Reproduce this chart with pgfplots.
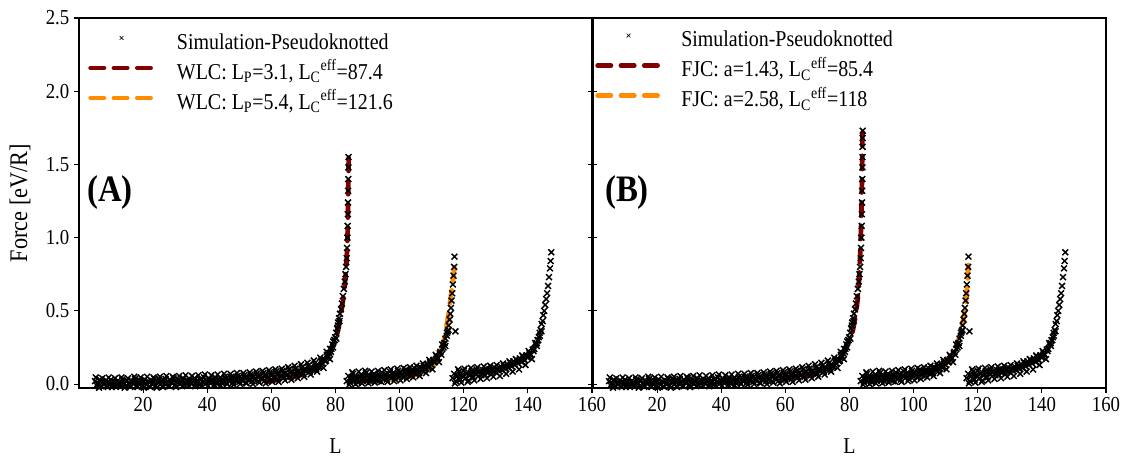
\documentclass[border=0pt]{standalone}
\usepackage{fontspec}
\setmainfont{Liberation Serif}[FakeStretch=0.88]
\usepackage{pgfplots}
\usepackage{pgfplotstable}
\pgfplotsset{compat=1.18}
\definecolor{dkred}{RGB}{128,0,0}
\definecolor{fitor}{RGB}{255,140,0}

\pgfplotstableread{
x y
5 0.02
5.5 -0.01
6 0.005
6.5 0.03
7 -0.015
7.5 0.015
8 0.0
8.5 0.025
9 -0.02
9.5 0.01
10 0.03
10.5 -0.005
11 0.015
11.5 -0.02
12 0.02
12.5 0.0
13 -0.01
13.5 0.03
14 0.01
14.5 -0.015
15 0.025
15.5 0.005
16 -0.02
16.5 0.02
17 0.0
17.5 0.035
18 -0.01
18.5 0.015
19 0.025
19.5 -0.015
20 0.01
20.5 0.03
21 -0.005
21.5 0.02
22 -0.015
22.5 0.025
23 0.005
23.5 0.035
24 -0.01
24.5 0.015
25 0.03
25.5 0.0
26 -0.015
26.5 0.02
27 0.035
27.5 0.005
28 -0.01
28.5 0.025
29 0.01
29.5 0.04
30 -0.005
30.5 0.02
31 0.03
31.5 0.0
32 0.015
32.5 0.04
33 -0.01
33.5 0.025
34 0.01
34.5 0.035
35 0.0
35.5 0.02
36 0.04
36.5 0.005
37 0.025
37.5 -0.005
38 0.03
38.5 0.015
39 0.045
39.5 0.0
40 0.02
40.5 0.035
41 0.005
41.5 0.03
42 0.015
42.5 0.045
43 0.0
43.5 0.025
44 0.04
44.5 0.01
45 0.03
45.5 0.05
46 0.005
46.5 0.035
47 0.02
47.5 0.05
48 0.01
48.5 0.04
49 0.025
49.5 0.055
50 0.015
50.5 0.04
51 0.03
51.5 0.06
52 0.01
52.5 0.045
53 0.025
53.5 0.065
54 0.02
54.5 0.05
55 0.035
55.5 0.07
56 0.02
56.5 0.055
57 0.04
57.5 0.075
58 0.025
58.5 0.06
59 0.045
59.5 0.08
60 0.03
60.5 0.065
61 0.05
61.5 0.085
62 0.035
62.5 0.07
63 0.055
63.5 0.09
64 0.045
64.5 0.075
65 0.06
65.5 0.1
66 0.05
66.5 0.085
67 0.07
67.5 0.105
68 0.06
68.5 0.09
69 0.08
69.5 0.115
70 0.07
70.5 0.1
71 0.09
71.5 0.125
72 0.085
72.5 0.11
73 0.1
73.5 0.14
74 0.105
74.5 0.13
75 0.12
75.5 0.16
76 0.14
76.5 0.17
77 0.16
77.3 0.2
77.6 0.18
78 0.21
78.3 0.24
78.6 0.22
79 0.27
79.3 0.29
79.6 0.3
79.9 0.32
80.2 0.35
80.5 0.38
80.8 0.42
81.1 0.45
81.4 0.48
81.7 0.51
82 0.55
82.3 0.6
82.6 0.65
82.9 0.7
83.1 0.75
83.3 0.8
83.5 0.86
83.6 0.93
83.7 1.0
83.8 1.08
83.85 1.16
83.9 1.24
83.95 1.32
84 1.4
84.03 1.48
84.06 1.55
}\segA

\pgfplotstableread{
x y
5.25 0.045
6.25 -0.025
7.25 0.04
8.25 -0.03
9.25 0.045
10.25 -0.02
11.25 0.04
12.25 -0.03
13.25 0.045
14.25 -0.025
15.25 0.04
16.25 -0.03
17.25 0.05
18.25 -0.02
19.25 0.045
20.25 -0.025
21.25 0.05
22.25 -0.02
23.25 0.045
24.25 -0.025
25.25 0.05
26.25 -0.02
27.25 0.055
28.25 -0.015
29.25 0.05
30.25 -0.02
31.25 0.055
32.25 -0.015
33.25 0.06
34.25 -0.01
35.25 0.055
36.25 -0.015
37.25 0.06
38.25 -0.01
39.25 0.065
40.25 -0.01
41.25 0.06
42.25 -0.005
43.25 0.065
44.25 -0.01
45.25 0.07
46.25 0.0
47.25 0.07
48.25 -0.005
49.25 0.075
50.25 0.0
51.25 0.075
52.25 0.005
53.25 0.08
54.25 0.0
55.25 0.085
56.25 0.01
57.25 0.09
58.25 0.005
59.25 0.095
60.25 0.015
61.25 0.1
62.25 0.015
63.25 0.105
64.25 0.025
65.25 0.115
66.25 0.03
67.25 0.125
68.25 0.04
69.25 0.135
70.25 0.05
71.25 0.145
72.25 0.065
73.25 0.16
74.25 0.085
75.25 0.18
76.25 0.11
77.25 0.22
78.25 0.17
79.25 0.25
80.25 0.31
81.25 0.43
5.75 0.0
6.75 0.015
7.75 -0.005
8.75 0.012
9.75 0.0
10.75 0.018
11.75 -0.002
12.75 0.012
13.75 0.005
14.75 0.02
15.75 -0.005
16.75 0.01
17.75 0.015
18.75 0.0
19.75 0.02
20.75 0.005
21.75 0.015
22.75 0.0
23.75 0.02
24.75 0.008
25.75 0.018
26.75 0.005
27.75 0.02
28.75 0.01
29.75 0.022
30.75 0.008
31.75 0.02
32.75 0.012
33.75 0.028
34.75 0.01
35.75 0.025
36.75 0.015
37.75 0.03
38.75 0.012
39.75 0.028
40.75 0.018
41.75 0.032
42.75 0.015
43.75 0.03
44.75 0.022
45.75 0.035
46.75 0.02
47.75 0.038
48.75 0.025
49.75 0.04
50.75 0.028
51.75 0.045
52.75 0.03
53.75 0.048
54.75 0.035
55.75 0.052
56.75 0.038
57.75 0.055
58.75 0.045
59.75 0.06
60.75 0.048
61.75 0.065
62.75 0.055
63.75 0.07
64.75 0.06
65.75 0.078
66.75 0.068
67.75 0.085
68.75 0.078
69.75 0.095
70.75 0.088
71.75 0.105
72.75 0.1
73.75 0.12
74.75 0.12
75.75 0.14
76.75 0.155
77.75 0.19
78.75 0.24
79.75 0.3
80.75 0.4
}\segAx

\pgfplotstableread{
x y
84.08 1.62
84.1 1.68
84.12 1.73
}\segAtop

\pgfplotstableread{
x y
83.5 0.02
84 0.055
84.5 0.01
85 0.045
85.5 0.07
86 0.02
86.5 0.05
87 0.01
87.5 0.04
88 0.065
88.5 0.02
89 0.05
89.5 0.075
90 0.025
90.5 0.055
91 0.015
91.5 0.045
92 0.07
92.5 0.03
93 0.06
93.5 0.02
94 0.05
94.5 0.08
95 0.035
95.5 0.065
96 0.03
96.5 0.055
97 0.085
97.5 0.045
98 0.07
98.5 0.035
99 0.065
99.5 0.09
100 0.05
100.5 0.08
101 0.045
101.5 0.075
102 0.1
102.5 0.06
103 0.09
103.5 0.055
104 0.085
104.5 0.11
105 0.07
105.5 0.1
106 0.075
106.5 0.115
107 0.09
107.5 0.125
108 0.1
108.5 0.135
109 0.11
109.5 0.15
110 0.13
110.5 0.165
111 0.15
111.5 0.19
112 0.175
112.5 0.21
113 0.2
113.3 0.24
113.7 0.25
114 0.28
114.3 0.31
114.7 0.33
115 0.36
115.3 0.4
115.6 0.44
115.8 0.48
116 0.52
116.2 0.57
116.4 0.62
116.6 0.68
116.8 0.74
117 0.8
117.1 0.87
117.4 0.36
}\segB

\pgfplotstableread{
x y
84.25 -0.005
85.25 0.08
86.25 0.0
87.25 0.085
88.25 0.005
89.25 0.09
90.25 0.005
91.25 0.085
92.25 0.01
93.25 0.09
94.25 0.015
95.25 0.095
96.25 0.015
97.25 0.1
98.25 0.02
99.25 0.105
100.25 0.025
101.25 0.11
102.25 0.035
103.25 0.115
104.25 0.045
105.25 0.125
106.25 0.055
107.25 0.14
108.25 0.075
109.25 0.165
110.25 0.1
111.25 0.2
112.25 0.15
113.25 0.27
114.25 0.26
115.25 0.37
84.75 0.03
85.75 0.045
86.75 0.03
87.75 0.05
88.75 0.035
89.75 0.055
90.75 0.04
91.75 0.055
92.75 0.045
93.75 0.06
94.75 0.05
95.75 0.065
96.75 0.055
97.75 0.065
98.75 0.06
99.75 0.07
100.75 0.065
101.75 0.08
102.75 0.075
103.75 0.085
104.75 0.085
105.75 0.095
106.75 0.1
107.75 0.11
108.75 0.12
109.75 0.135
110.75 0.15
111.75 0.175
112.75 0.22
113.75 0.27
114.75 0.35
}\segBx

\pgfplotstableread{
x y
116.5 0.04
117 0.07
117.5 0.02
118 0.055
118.5 0.085
119 0.03
119.5 0.06
120 0.09
120.5 0.04
121 0.07
121.5 0.025
122 0.06
122.5 0.09
123 0.045
123.5 0.075
124 0.1
124.5 0.055
125 0.085
125.5 0.06
126 0.095
126.5 0.065
127 0.105
127.5 0.075
128 0.1
128.5 0.065
129 0.095
129.5 0.115
130 0.08
130.5 0.105
131 0.09
131.5 0.12
132 0.095
132.5 0.125
133 0.105
133.5 0.135
134 0.11
134.5 0.145
135 0.12
135.5 0.155
136 0.13
136.5 0.165
137 0.14
137.5 0.175
138 0.15
138.5 0.185
139 0.16
139.5 0.195
140 0.18
140.5 0.21
141 0.2
141.5 0.235
142 0.24
142.5 0.27
142.8 0.26
143 0.3
143.4 0.32
143.7 0.35
144 0.37
144.3 0.41
144.6 0.43
144.8 0.47
145.1 0.5
145.4 0.54
145.7 0.58
146 0.62
146.3 0.67
146.6 0.73
146.9 0.79
147.1 0.84
147.3 0.9
}\segC

\pgfplotstableread{
x y
117.25 0.005
118.25 0.1
119.25 0.01
120.25 0.105
121.25 0.015
122.25 0.11
123.25 0.025
124.25 0.115
125.25 0.035
126.25 0.12
127.25 0.04
128.25 0.125
129.25 0.05
130.25 0.13
131.25 0.055
132.25 0.14
133.25 0.07
134.25 0.155
135.25 0.085
136.25 0.17
137.25 0.1
138.25 0.195
139.25 0.13
140.25 0.225
141.25 0.17
142.25 0.28
143.25 0.3
144.25 0.36
117.75 0.05
118.75 0.06
119.75 0.05
120.75 0.07
121.75 0.06
122.75 0.075
123.75 0.07
124.75 0.08
125.75 0.075
126.75 0.09
127.75 0.085
128.75 0.095
129.75 0.09
130.75 0.1
131.75 0.1
132.75 0.11
133.75 0.115
134.75 0.125
135.75 0.135
136.75 0.145
137.75 0.16
138.75 0.17
139.75 0.185
140.75 0.2
141.75 0.225
142.75 0.28
143.75 0.33
}\segCx

\pgfplotstableread{
x y
58.5 0.015
62 0.028
66 0.043
70 0.066
73 0.095
75 0.125
77 0.17
78.5 0.22
79.5 0.27
80.5 0.34
81.3 0.42
82 0.52
82.5 0.6
83 0.7
83.4 0.82
83.7 0.96
83.85 1.12
83.95 1.28
84.05 1.43
84.1 1.56
}\wlcA

\pgfplotstableread{
x y
88 0.015
92 0.022
96 0.03
100 0.04
104 0.055
107 0.075
109 0.1
110.5 0.13
111.7 0.165
112.6 0.21
113.5 0.27
114.3 0.35
115.1 0.46
115.8 0.57
116.3 0.65
116.8 0.74
117.2 0.83
}\wlcB

\pgfplotstableread{
x y
58.6 0.035
62 0.045
66 0.058
69.6 0.075
72 0.095
74.5 0.125
76.5 0.165
77.7 0.2
78.8 0.245
79.8 0.29
80.9 0.35
81.8 0.45
82.5 0.57
83 0.72
83.4 0.92
83.7 1.15
83.9 1.4
84.05 1.75
}\fjcA

\pgfplotstableread{
x y
88 0.04
92 0.05
96 0.06
100 0.065
104 0.073
107 0.09
109.2 0.118
111 0.16
112.4 0.21
113.8 0.29
115 0.38
116.3 0.55
116.8 0.7
117.2 0.87
}\fjcB

\pgfplotsset{
  panel/.style={
    scale only axis, width=384.75pt, height=277.5pt,
    xmin=0, xmax=160, ymin=-0.027, ymax=2.5,
    xtick={20,40,60,80,100,120,140,160},
    ytick={0,0.5,1,1.5,2,2.5},
    tick align=outside, major tick length=3.75pt,
    xtick pos=bottom,
    axis line style={line width=0.8pt, black},
    major tick style={line width=0.8pt, black},
    /pgf/number format/assume math mode=true,
    tick label style={font=\fontsize{16}{18}\selectfont, black},
    yticklabel style={/pgf/number format/.cd, fixed, fixed zerofill, precision=1},
    xlabel={L},
    xlabel style={at={(axis description cs:0.5,-0.157)}, anchor=center, font=\fontsize{17}{20}\selectfont},
    legend cell align=left,
    legend image code/.code={%
      \path[draw=none, fill=none] (0pt,0pt) -- (48.5pt,0pt);
      \draw[mark repeat=2,mark phase=2,##1] plot coordinates {(1.75pt,4.5pt) (25pt,4.5pt) (46.75pt,4.5pt)};},
    legend style={draw=none, fill=none, inner sep=0pt, row sep=6.5pt,
      font=\fontsize{17}{20}\selectfont,
      nodes={inner sep=0pt, text height=12pt, text depth=4pt}},
  },
  sim/.style={only marks, mark=x, mark size=3.1pt, black, mark options={line width=1.1pt}},
  simleg/.style={only marks, mark=x, mark size=2pt, black, mark options={line width=0.5pt}},
  fit/.style={line width=3.5pt, dash pattern=on 10pt off 7.5pt, line cap=round},
}

\begin{document}
\begin{tikzpicture}
\useasboundingbox (-59.25pt,-53.25pt) rectangle (783.75pt,291pt);
\begin{axis}[panel, at={(0pt,0pt)}, anchor=south west, ytick pos=both,
  ylabel={Force [eV/R]},
  ylabel style={at={(axis description cs:-0.115,0.5)}, anchor=center, font=\fontsize{19}{22}\selectfont},
  legend style={at={(rel axis cs:0,1)}, anchor=north west, xshift=6.75pt, yshift=-11.25pt, column sep=18pt}]
\addlegendimage{simleg}
\addlegendentry{Simulation-Pseudoknotted}
\addlegendimage{fit, dkred}
\addlegendentry{WLC: L\textsubscript{P}=3.1, L\textsubscript{C}\textsuperscript{eff}=87.4}
\addlegendimage{fit, fitor}
\addlegendentry{WLC: L\textsubscript{P}=5.4, L\textsubscript{C}\textsuperscript{eff}=121.6}
\addplot[sim, forget plot] table {\segA};
\addplot[sim, forget plot] table {\segAx};
\addplot[sim, forget plot] table {\segB};
\addplot[sim, forget plot] table {\segBx};
\addplot[sim, forget plot] table {\segC};
\addplot[sim, forget plot] table {\segCx};
\addplot[fit, dkred, forget plot] table {\wlcA};
\addplot[fit, fitor, forget plot] table {\wlcB};
\node[anchor=west, inner sep=0pt, font=\bfseries\fontsize{28}{30}\selectfont] at (axis cs:2.5,1.31) {(A)};
\end{axis}
\begin{axis}[panel, at={(385.5pt,0pt)}, anchor=south west, ytick pos=left, yticklabels={},
  legend style={at={(rel axis cs:0,1)}, anchor=north west, xshift=1.5pt, yshift=-9.5pt, column sep=16pt}]
\addlegendimage{simleg}
\addlegendentry{Simulation-Pseudoknotted}
\addlegendimage{fit, dkred}
\addlegendentry{FJC: a=1.43, L\textsubscript{C}\textsuperscript{eff}=85.4}
\addlegendimage{fit, fitor}
\addlegendentry{FJC: a=2.58, L\textsubscript{C}\textsuperscript{eff}=118}
\addplot[sim, forget plot] table {\segA};
\addplot[sim, forget plot] table {\segAx};
\addplot[sim, forget plot] table {\segAtop};
\addplot[sim, forget plot] table {\segB};
\addplot[sim, forget plot] table {\segBx};
\addplot[sim, forget plot] table {\segC};
\addplot[sim, forget plot] table {\segCx};
\addplot[fit, dkred, forget plot] table {\fjcA};
\addplot[fit, fitor, forget plot] table {\fjcB};
\node[anchor=west, inner sep=0pt, font=\bfseries\fontsize{28}{30}\selectfont] at (axis cs:3.7,1.31) {(B)};
\end{axis}
\end{tikzpicture}
\end{document}
